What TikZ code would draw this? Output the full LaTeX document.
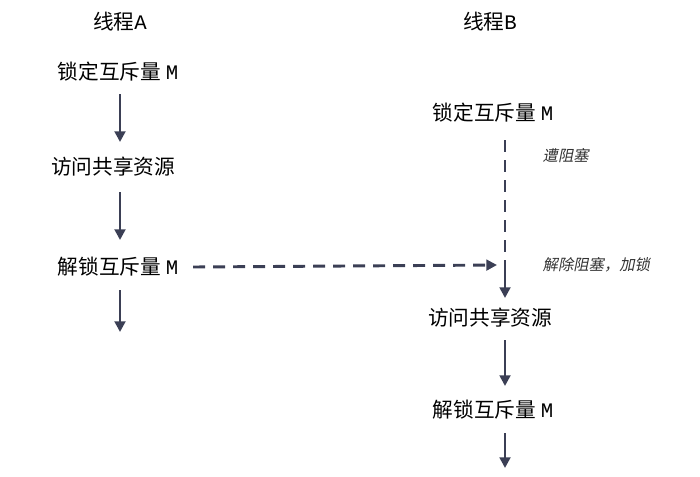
\documentclass[tikz,border=0pt]{standalone}
\usepackage{fontspec}
\setmainfont{Noto Sans CJK SC}
\setmonofont{Liberation Mono}
\newfontfamily\cjkit[FakeSlant=0.2]{Noto Sans CJK SC}
\usetikzlibrary{arrows.meta}
\definecolor{slate}{HTML}{3B3F55}
\tikzset{
  step label/.style={font=\fontsize{15.5}{18}\selectfont, inner sep=2pt},
  note label/.style={font=\cjkit\fontsize{11.5}{13}\selectfont, text=black!80, anchor=west},
  flow/.style={-{Triangle[length=8pt,width=8pt]}, line width=2.2pt, draw=slate},
  wait/.style={line width=2.2pt, draw=slate, dash pattern=on 9pt off 6pt}
}
\begin{document}
\begin{tikzpicture}[x=0.75pt,y=-0.75pt]
  \useasboundingbox (0,0) rectangle (700,476);
  % thread A
  \node[step label] (ta) at (120,22) {线程\texttt{A}};
  \node[step label] (a1) at (118,72) {锁定互斥量\ \texttt{M}};
  \node[step label] (a2) at (113,167) {访问共享资源};
  \node[step label] (a3) at (118,267) {解锁互斥量\ \texttt{M}};
  \coordinate (aend) at (120,332);
  \draw[flow] (120,94) -- (120,142);
  \draw[flow] (120,192) -- (120,240);
  \draw[flow] (120,290) -- (aend);
  % thread B
  \node[step label] (tb) at (490,22) {线程\texttt{B}};
  \node[step label] (b1) at (493,113) {锁定互斥量\ \texttt{M}};
  \node[step label] (b2) at (490,318) {访问共享资源};
  \node[step label] (b3) at (493,410) {解锁互斥量\ \texttt{M}};
  \coordinate (btop) at (505,140);
  \coordinate (bjoin) at (505,265);
  \coordinate (bend) at (505,468);
  \draw[wait] (btop) -- (bjoin);
  \draw[flow] (bjoin) -- (505,298);
  \draw[flow] (505,340) -- (505,386);
  \draw[flow] (505,433) -- (bend);
  % unlock signal
  \coordinate (sig) at (497,265);
  \draw[wait, -{Triangle[length=8pt,width=8pt]}] (a3.east)++(12,0) coordinate (a3e) (a3e) -- (sig);
  % notes
  \node[note label] (n1) at (538,156) {遭阻塞};
  \node[note label] (n2) at (538,265) {解除阻塞，加锁};
\end{tikzpicture}
\end{document}
